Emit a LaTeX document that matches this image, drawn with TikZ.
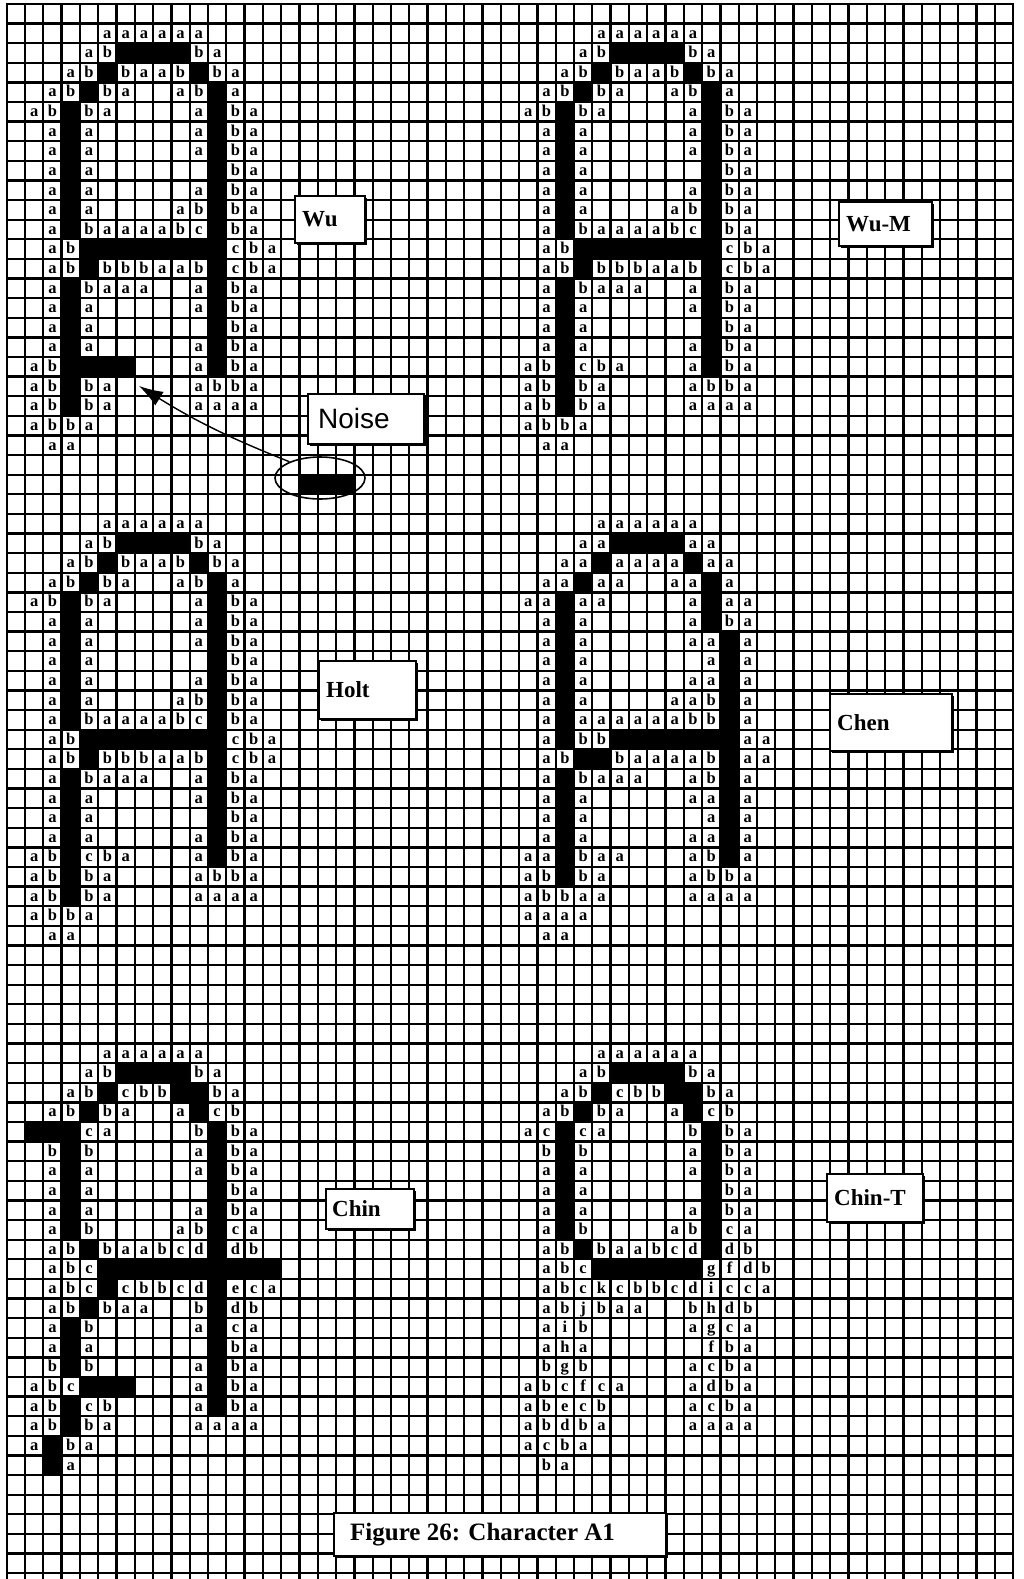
\documentclass[tikz,border=0pt]{standalone}
\usepackage{fontspec}
\setmainfont{Liberation Serif}
\newfontfamily\noisefont{Liberation Sans}
\usetikzlibrary{arrows.meta,shapes.geometric,shadows}

\makeatletter
\def\gX{6.7}\def\gP{18.3}\def\gY{3.9}\def\gQ{19.615}
\newcount\cbrow
\def\cellrow#1#2#3{\def\cr@c{#1}\def\cr@r{#2}\expandafter\cr@scan#3\relax}
\def\cr@scan#1{\ifx#1\relax\else\cr@cell{#1}\pgfmathtruncatemacro\cr@c{\cr@c+1}\expandafter\cr@scan\fi}
\def\cr@cell#1{%
  \if#1.\relax\else
    \if#1X\relax
      \fill[cellblack] ({\gX+\gP*\cr@c},{\gY+\gQ*\cr@r}) rectangle ++(\gP,\gQ);%
    \else
      \node[cellletter] (n-\cr@c-\cr@r) at ({\gX+\gP*(\cr@c+0.5)},{\gY+\gQ*(\cr@r+0.5)+4.8}) {#1};%
    \fi
  \fi}
\newcommand\charblock[3]{\global\cbrow=#2\relax
  \@for\cb@s:=#3\do{\edef\cb@r{\the\cbrow}\cellrow{#1}{\cb@r}{\cb@s}\global\advance\cbrow by 1\relax}}
\makeatother

\tikzset{
  gridline/.style={line width=2.3pt, line cap=rect},
  cellblack/.style={fill=black},
  cellletter/.style={font=\bfseries\fontsize{16.5}{16.5}\selectfont, inner sep=0pt, anchor=base},
  labelbox/.style={draw, line width=1.6pt, fill=white, inner sep=0pt, anchor=north west,
    drop shadow={shadow xshift=2.5pt, shadow yshift=-2.5pt, fill=black, opacity=1}},
  labeltext/.style={font=\bfseries\fontsize{23}{23}\selectfont, inner sep=0pt, anchor=west},
}

\begin{document}
\begin{tikzpicture}[x=1pt,y=-1pt]
\useasboundingbox (0,0) rectangle (1024,1579);
\fill[white] (0,0) rectangle (1024,1579);
% grid
\foreach \i in {0,...,55} \draw[gridline] ({\gX+\gP*\i},\gY) -- ({\gX+\gP*\i},1579);
\foreach \i in {0,...,80} \draw[gridline] (\gX,{\gY+\gQ*\i}) -- ({\gX+55*\gP},{\gY+\gQ*\i});

% Wu
\charblock{1}{1}{....aaaaaa,...abXXXXba,..abXbaabXba,.abXba..abXa,abXba....aXba,.aXa.....aXba,.aXa.....aXba,.aXa......Xba,.aXa.....aXba,.aXa....abXba,.aXbaaaabcXba,.abXXXXXXXXcba,.abXbbbaabXcba,.aXbaaa..aXba,.aXa.....aXba,.aXa......Xba,.aXa.....aXba,abXXXX...aXba,abXba....abba,abXba....aaaa,abba,.aa}
% Wu-M
\charblock{28}{1}{....aaaaaa,...abXXXXba,..abXbaabXba,.abXba..abXa,abXba....aXba,.aXa.....aXba,.aXa.....aXba,.aXa......Xba,.aXa.....aXba,.aXa....abXba,.aXbaaaabcXba,.abXXXXXXXXcba,.abXbbbaabXcba,.aXbaaa..aXba,.aXa.....aXba,.aXa......Xba,.aXa.....aXba,abXcba...aXba,abXba....abba,abXba....aaaa,abba,.aa}
% Holt
\charblock{1}{26}{....aaaaaa,...abXXXXba,..abXbaabXba,.abXba..abXa,abXba....aXba,.aXa.....aXba,.aXa.....aXba,.aXa......Xba,.aXa.....aXba,.aXa....abXba,.aXbaaaabcXba,.abXXXXXXXXcba,.abXbbbaabXcba,.aXbaaa..aXba,.aXa.....aXba,.aXa......Xba,.aXa.....aXba,abXcba...aXba,abXba....abba,abXba....aaaa,abba,.aa}
% Chen
\charblock{28}{26}{....aaaaaa,...aaXXXXaa,..aaXaaaaXaa,.aaXaa..aaXa,aaXaa....aXaa,.aXa.....aXba,.aXa.....aaXa,.aXa......aXa,.aXa.....aaXa,.aXa....aabXa,.aXaaaaaabbXa,.aXbbXXXXXXXaa,.abXXbaaaabXaa,.aXbaaa..abXa,.aXa.....aaXa,.aXa......aXa,.aXa.....aaXa,aaXbaa...abXa,abXba....abba,abbaa....aaaa,aaaa,.aa}
% Chin
\charblock{1}{53}{....aaaaaa,...abXXXXba,..abXcbbXXba,.abXba..aXcb,XXXca....bXba,.bXb.....aXba,.aXa.....aXba,.aXa......Xba,.aXa.....aXba,.aXb....abXca,.abXbaabcdXdb,.abcXXXXXXXXXX,.abcXcbbcdXeca,.abXbaa..bXdb,.aXb.....aXca,.aXa......Xba,.bXb.....aXba,abcXXX...aXba,abXcb....aXba,abXba....aaaa,aXba,.Xa}
% Chin-T
\charblock{28}{53}{....aaaaaa,...abXXXXba,..abXcbbXXba,.abXba..aXcb,acXca....bXba,.bXb.....aXba,.aXa.....aXba,.aXa......Xba,.aXa.....aXba,.aXb....abXca,.abXbaabcdXdb,.abcXXXXXXgfdb,.abckcbbcdicca,.abjbaa..bhdb,.aib.....agca,.aha......fba,.bgb.....acba,abcfca...adba,abecb....acba,abdba....aaaa,acba,.ba}

% noise piece
\cellrow{16}{24}{XXX}
\node[draw, ellipse, line width=1.6pt, minimum width=90pt, minimum height=42pt, inner sep=0pt] (noiseell) at (320,478) {};
\coordinate (tip) at (139,386);
\draw[line width=1.4pt, -{Latex[length=24pt,width=16pt]}] (noiseell.152) to[bend left=5] (tip);

% labels
\node[labelbox, minimum width=70pt, minimum height=47pt] (wu) at (294,195) {};
\node[labeltext] (wu-t) at ([xshift=8pt]wu.west) {Wu};
\node[labelbox, minimum width=93pt, minimum height=44pt] (wum) at (838,201) {};
\node[labeltext] (wum-t) at ([xshift=8pt]wum.west) {Wu-M};
\node[labelbox, minimum width=116pt, minimum height=50pt] (noise) at (307,393) {};
\node[labeltext, font=\noisefont\fontsize{28}{28}\selectfont] (noise-t) at ([xshift=11pt]noise.west) {Noise};
\node[labelbox, minimum width=97pt, minimum height=58pt] (holt) at (318,660) {};
\node[labeltext] (holt-t) at ([xshift=8pt]holt.west) {Holt};
\node[labelbox, minimum width=122pt, minimum height=57pt] (chen) at (829,693) {};
\node[labeltext] (chen-t) at ([xshift=8pt]chen.west) {Chen};
\node[labelbox, minimum width=88pt, minimum height=40pt] (chin) at (325,1188) {};
\node[labeltext] (chin-t) at ([xshift=7pt]chin.west) {Chin};
\node[labelbox, minimum width=96pt, minimum height=48pt] (chint) at (826,1173) {};
\node[labeltext] (chint-t) at ([xshift=8pt]chint.west) {Chin-T};
\node[labelbox, minimum width=332pt, minimum height=43pt] (cap) at (333,1512) {};
\node[labeltext, font=\bfseries\fontsize{25}{25}\selectfont] (cap-t) at ([xshift=17pt]cap.west) {Figure 26: Character A1};
\end{tikzpicture}
\end{document}
